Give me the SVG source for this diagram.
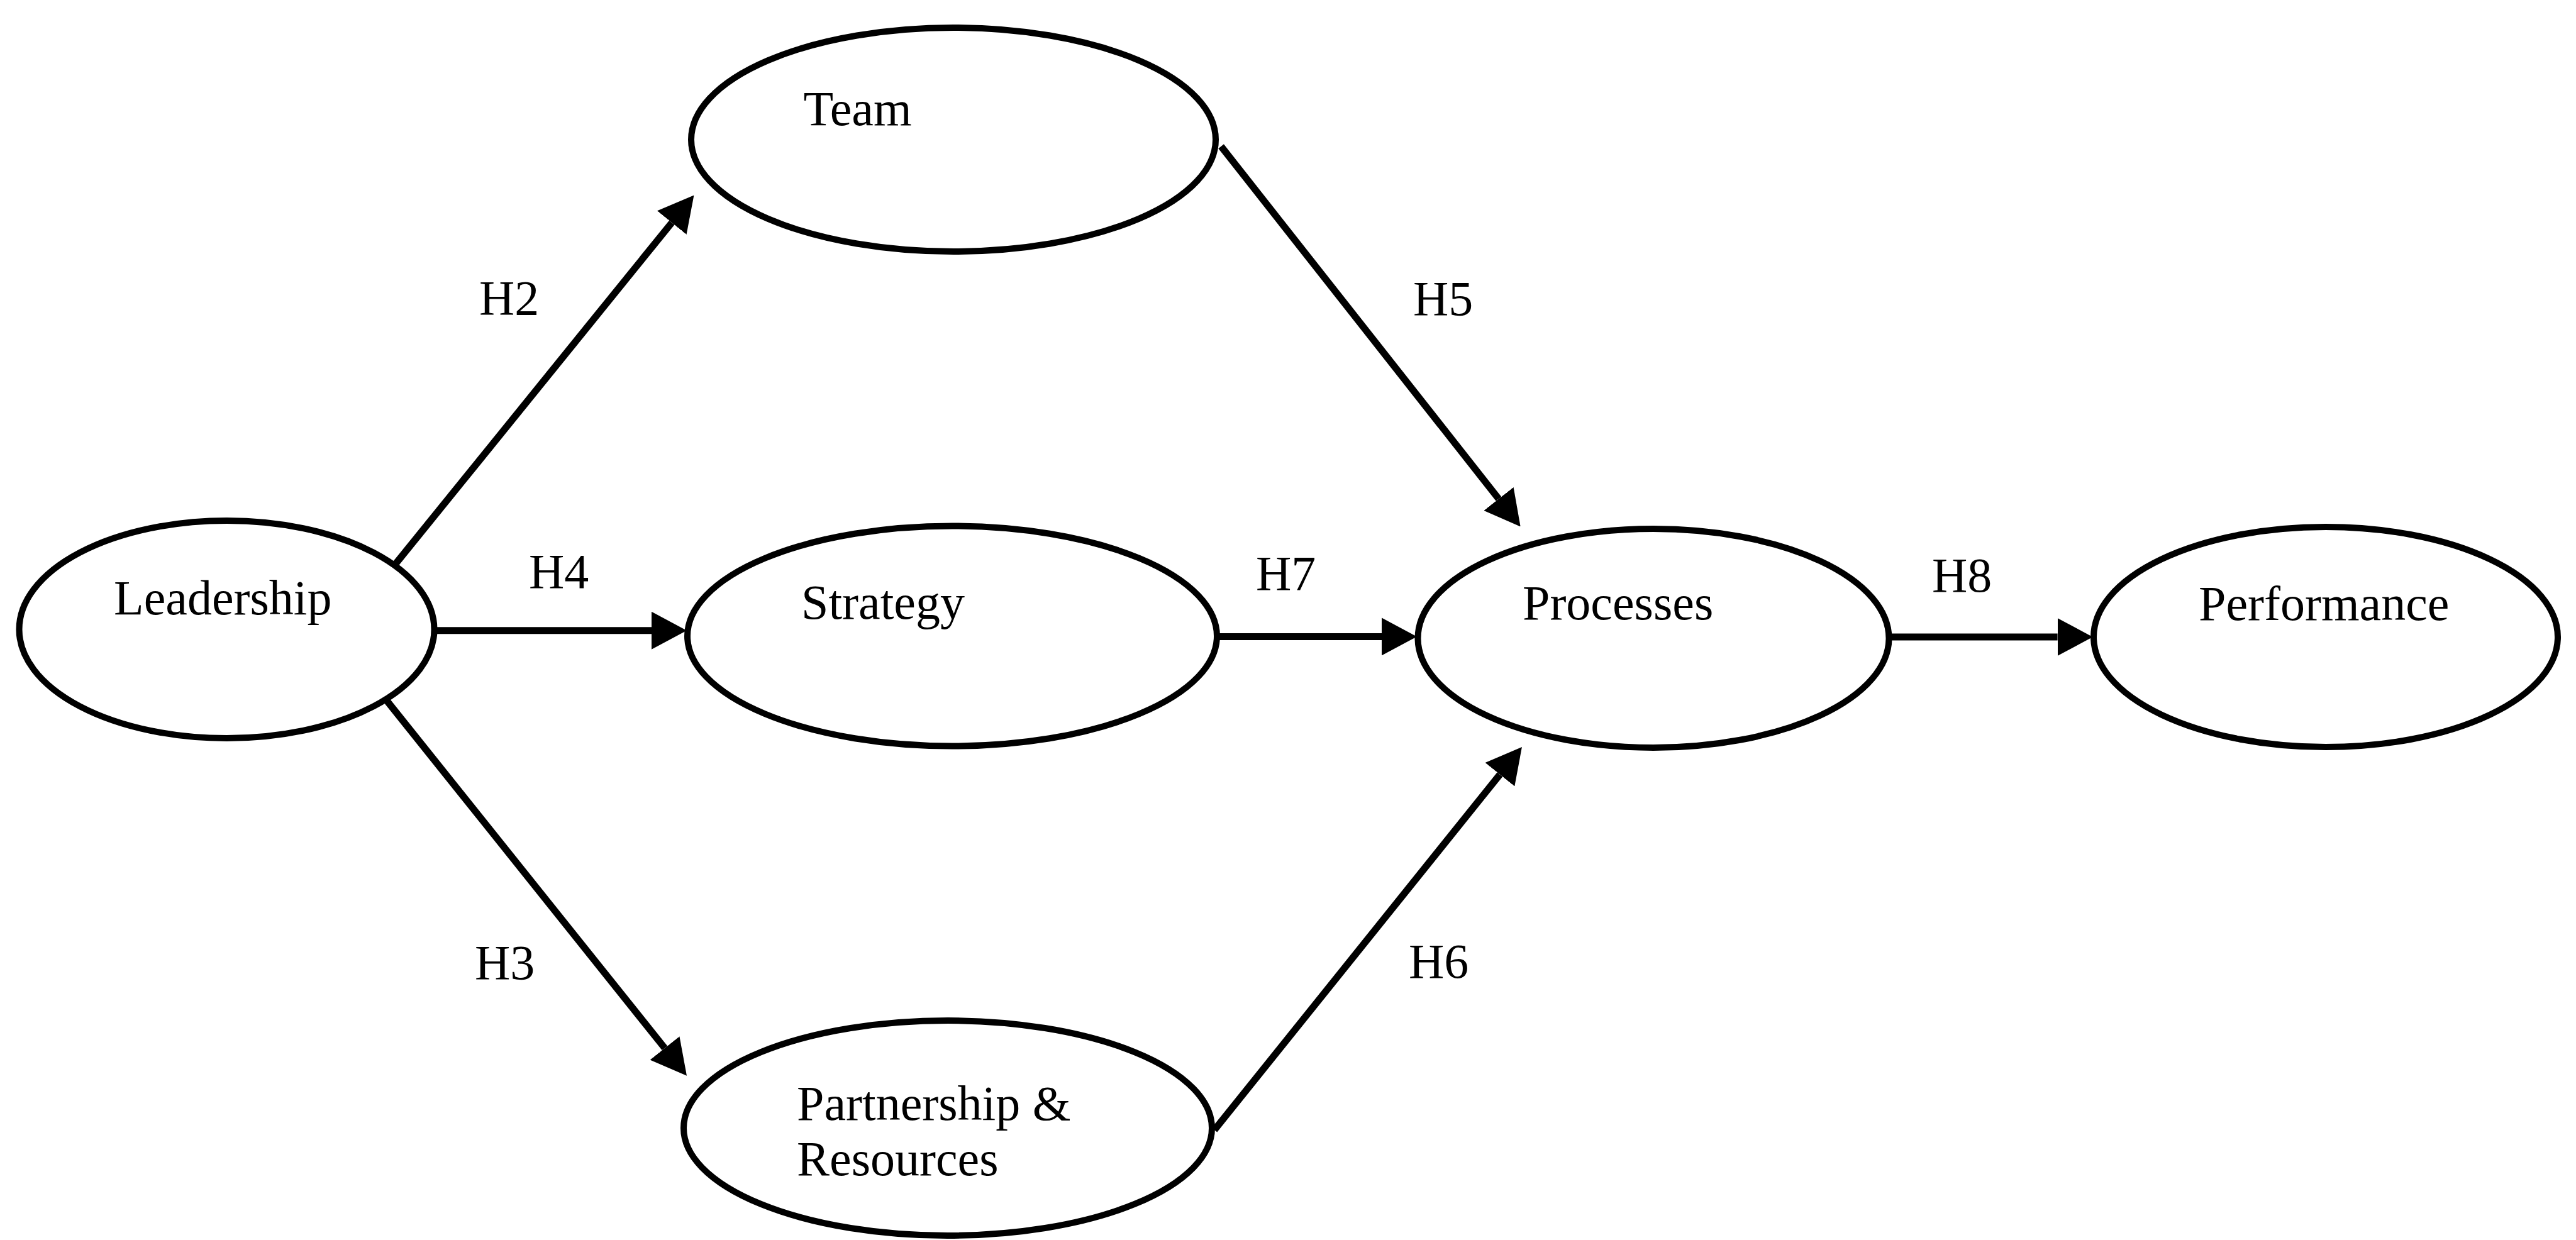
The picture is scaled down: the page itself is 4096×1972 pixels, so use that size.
<svg xmlns="http://www.w3.org/2000/svg" width="4096" height="1972" viewBox="0 0 4096 1972">
  <style>
    .node ellipse { fill: #ffffff; stroke: #000000; stroke-width: 10; }
    .label { font-family: "Liberation Serif", "Times New Roman", serif; font-size: 78px; fill: #000000; }
    .edge { stroke: #000000; stroke-width: 11; fill: none; marker-end: url(#head); }
  </style>
  <defs>
    <!-- solid triangular arrowhead; refX=0 so the head sits beyond the line end -->
    <marker id="head" viewBox="0 0 56 60" refX="0" refY="30" markerWidth="56" markerHeight="60" markerUnits="userSpaceOnUse" orient="auto">
      <path d="M0,0 L56,30 L0,60 Z" fill="#000000"/>
    </marker>
  </defs>
  <rect width="4096" height="1972" fill="#ffffff"/>

  <!-- connectors -->
  <g id="connectors">
    <line id="e-h2" class="edge" x1="605.5" y1="925.75" x2="1068.2" y2="354.1"/>
    <line id="e-h4" class="edge" x1="689.5" y1="1002.75" x2="1036" y2="1002.75"/>
    <line id="e-h3" class="edge" x1="600" y1="1095.5" x2="1057" y2="1666.9"/>
    <line id="e-h5" class="edge" x1="1941.6" y1="232.75" x2="2383" y2="793.4"/>
    <line id="e-h7" class="edge" x1="1934.6" y1="1012.4" x2="2197" y2="1012.4"/>
    <line id="e-h6" class="edge" x1="1931" y1="1797" x2="2384.9" y2="1231.7"/>
    <line id="e-h8" class="edge" x1="3004" y1="1013" x2="3271.6" y2="1013"/>
  </g>

  <!-- nodes -->
  <g id="leadership" class="node">
    <ellipse cx="360.5" cy="1001" rx="330" ry="173"/>
    <text class="label" x="181" y="976.5">Leadership</text>
  </g>
  <g id="team" class="node">
    <ellipse cx="1516" cy="222" rx="417" ry="178"/>
    <text class="label" x="1277.5" y="198.6">Team</text>
  </g>
  <g id="strategy" class="node">
    <ellipse cx="1514" cy="1011.5" rx="421" ry="175"/>
    <text class="label" x="1274" y="983.5">Strategy</text>
  </g>
  <g id="partnership" class="node">
    <ellipse cx="1507" cy="1794" rx="420" ry="171"/>
    <text class="label" x="1267" y="1780.6">Partnership &amp;</text>
    <text class="label" x="1267" y="1869">Resources</text>
  </g>
  <g id="processes" class="node">
    <ellipse cx="2629" cy="1015" rx="374.5" ry="174"/>
    <text class="label" x="2421" y="985">Processes</text>
  </g>
  <g id="performance" class="node">
    <ellipse cx="3698" cy="1013" rx="369" ry="175"/>
    <text class="label" x="3496" y="986">Performance</text>
  </g>

  <!-- hypothesis labels -->
  <g id="edge-labels">
    <text class="label" x="762" y="500">H2</text>
    <text class="label" x="841" y="935">H4</text>
    <text class="label" x="755" y="1557">H3</text>
    <text class="label" x="2247" y="501">H5</text>
    <text class="label" x="1997" y="938">H7</text>
    <text class="label" x="3072" y="941">H8</text>
    <text class="label" x="2240" y="1555">H6</text>
  </g>
</svg>
